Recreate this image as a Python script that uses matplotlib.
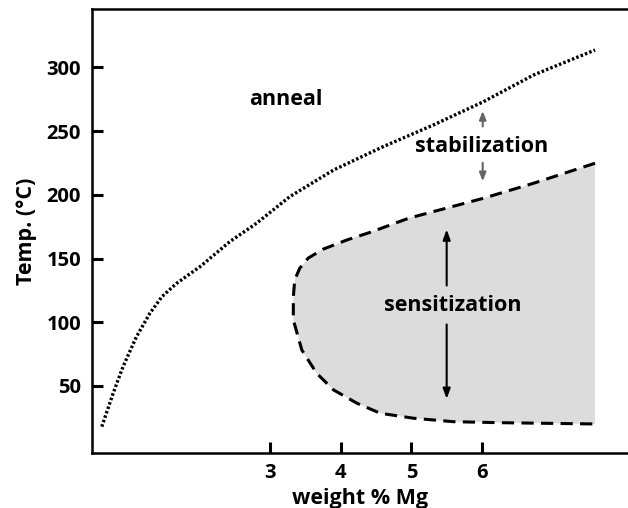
import numpy as np
import matplotlib
matplotlib.use('Agg')
from matplotlib import pyplot as plt

# anneal / stabilization boundary (dotted)
anneal_x = [0.62, 0.78, 0.92, 1.11, 1.30, 1.47, 1.68, 2.01, 2.43, 2.81, 3.28, 3.90, 4.60, 5.31, 6.02, 6.73, 7.60]
anneal_t = [18.0, 44.2, 65.1, 88.6, 107.0, 120.0, 130.6, 143.6, 163.2, 177.7, 198.6, 219.5, 237.8, 254.8, 273.1, 294.1, 313.7]

# sensitization region boundary (dashed), upper branch -> nose -> lower branch
sens_x = [7.60, 6.73, 6.02, 5.31, 4.96, 4.74, 4.42, 4.09, 3.75, 3.54, 3.42, 3.35, 3.33,
          3.33, 3.45, 3.66, 3.90, 4.23, 4.56, 5.03, 5.59, 6.25, 7.60]
sens_t = [224.8, 209.1, 197.3, 186.8, 181.6, 177.1, 170.6, 164.6, 157.3, 150.3, 142.3, 133.2, 120.0,
          101.8, 78.2, 59.9, 46.8, 36.4, 28.5, 24.6, 21.9, 21.1, 20.1]

xticks = [3, 4, 5, 6]
yticks = [50, 100, 150, 200, 250, 300]

plt.rcParams['font.family'] = ['Open Sans', 'DejaVu Sans']
plt.rcParams['font.weight'] = 'bold'

fig = plt.figure(figsize=(6.28, 5.08), dpi=100)
ax = fig.add_axes([92 / 628, 55 / 508, 536 / 628, 444 / 508])

ax.fill(sens_x, sens_t, color='#dcdcdc', lw=0, zorder=1)
ax.plot(sens_x, sens_t, color='black', lw=2.2, linestyle=(0, (4, 2.4)), zorder=2)
ax.plot(anneal_x, anneal_t, color='black', lw=2.4, linestyle=(0, (0.75, 0.65)), zorder=2)

# labels
ax.text(3.23, 274.5, 'anneal', ha='center', va='center', fontsize=15.5, fontweight='bold')
ax.text(6.0, 237.8, 'stabilization', ha='center', va='center', fontsize=15.5, fontweight='bold')
ax.text(5.59, 113.4, 'sensitization', ha='center', va='center', fontsize=15.5, fontweight='bold')

# arrows
gray = dict(arrowstyle='-|>,head_length=0.5,head_width=0.2', color='#666666', lw=1.5)
ax.annotate('', xy=(6.01, 268), xytext=(6.01, 251.5), arrowprops=gray)
ax.annotate('', xy=(6.01, 208.5), xytext=(6.01, 227.4), arrowprops=gray)
blk = dict(arrowstyle='-|>,head_length=0.6,head_width=0.22', color='black', lw=1.5)
ax.annotate('', xy=(5.50, 175), xytext=(5.50, 126.6), arrowprops=blk)
ax.annotate('', xy=(5.50, 37.6), xytext=(5.50, 100.4), arrowprops=blk)

ax.set_xlim(0.481, 8.066)
ax.set_ylim(-2.7, 345.9)
ax.set_xticks(xticks)
ax.set_yticks(yticks)
ax.tick_params(direction='in', length=8, width=2.2, labelsize=14.5, pad=7)
ax.tick_params(axis='y', pad=8)
for lab in ax.get_xticklabels() + ax.get_yticklabels():
    lab.set_fontweight('bold')
ax.spines['right'].set_visible(False)
for s in ['left', 'top', 'bottom']:
    ax.spines[s].set_linewidth(1.8)

ax.set_xlabel('weight % Mg', fontsize=15.5, fontweight='bold', labelpad=4)
ax.set_ylabel('Temp. (°C)', fontsize=15.5, fontweight='bold', labelpad=7)

fig.savefig('out.png', dpi=100)
